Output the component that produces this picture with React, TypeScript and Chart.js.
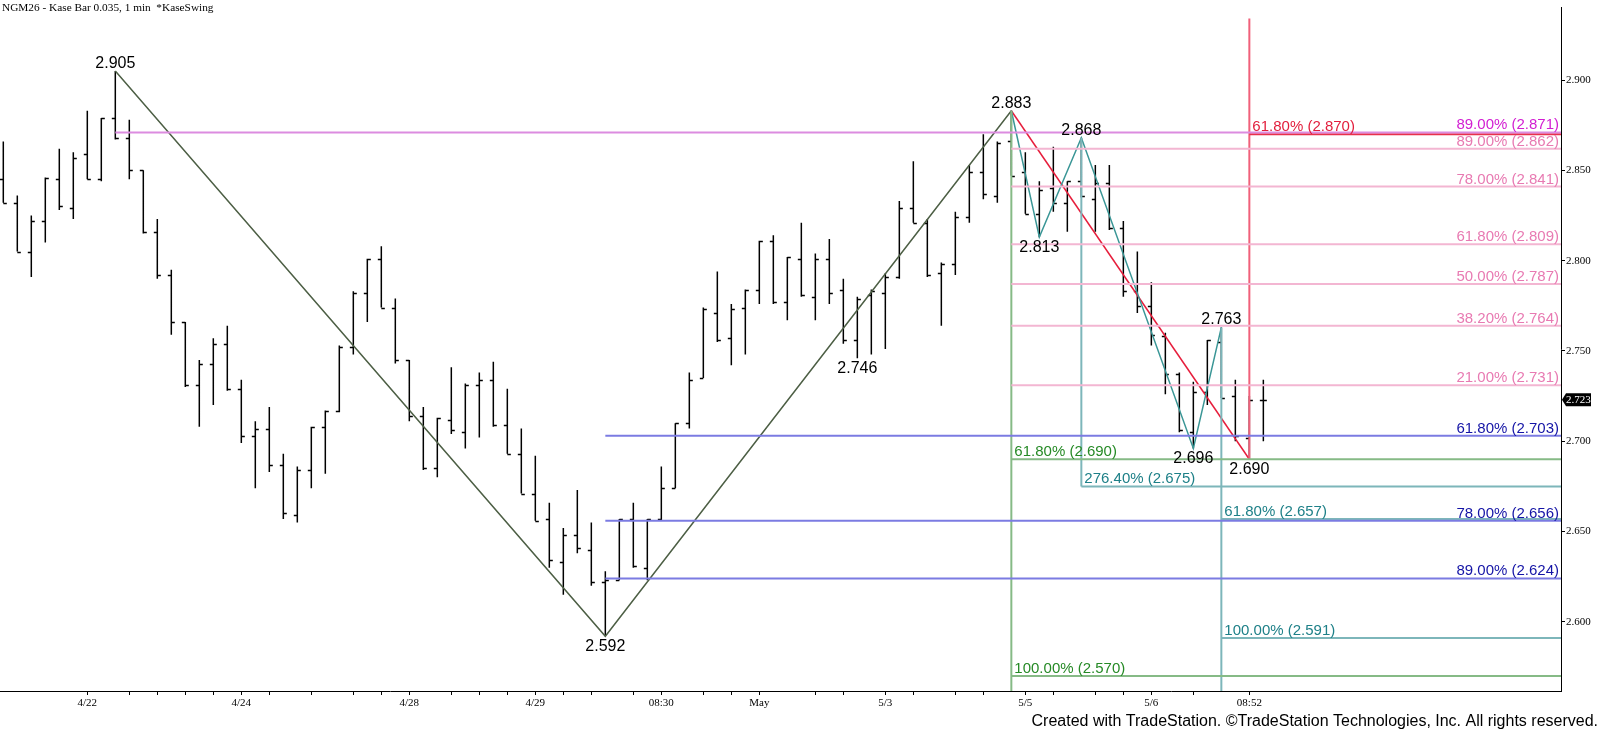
import { useEffect, useRef } from "react";
import { Chart, registerables } from "chart.js";

Chart.register(...registerables);

// Kase bars, one entry per bar (index = bar number)
const opens = [
    2.845, 2.832, 2.805, 2.822, 2.845, 2.829, 2.859, 2.845, 2.879, 2.868,
    2.850, 2.816, 2.792, 2.766, 2.731, 2.743, 2.754, 2.729, 2.703, 2.707,
    2.687, 2.659, 2.684, 2.708, 2.717, 2.752, 2.782, 2.801, 2.774, 2.745,
    2.714, 2.685, 2.712, 2.705, 2.731, 2.734, 2.709, 2.693, 2.671, 2.657,
    2.633, 2.648, 2.640, 2.622, 2.623, 2.657, 2.630, 2.657, 2.674, 2.710,
    2.735, 2.771, 2.757, 2.774, 2.784, 2.811, 2.777, 2.801, 2.780, 2.801,
    2.784, 2.756, 2.781, 2.782, 2.791, 2.829, 2.821, 2.793, 2.798, 2.824,
    2.849, 2.836, 2.866, 2.849, 2.826, 2.840, 2.832, 2.844, 2.834, 2.843,
    2.818, 2.783, 2.775, 2.758, 2.737, 2.705, 2.727, 2.755, 2.725, 2.702,
    2.723
];
const highs = [
    2.866, 2.836, 2.825, 2.846, 2.862, 2.860, 2.883, 2.879, 2.905, 2.878,
    2.850, 2.823, 2.795, 2.766, 2.745, 2.757, 2.764, 2.734, 2.711, 2.719,
    2.693, 2.686, 2.708, 2.717, 2.753, 2.783, 2.801, 2.808, 2.779, 2.745,
    2.719, 2.713, 2.741, 2.732, 2.738, 2.744, 2.729, 2.707, 2.692, 2.666,
    2.652, 2.673, 2.655, 2.628, 2.657, 2.666, 2.657, 2.686, 2.710, 2.738,
    2.774, 2.794, 2.776, 2.784, 2.811, 2.814, 2.802, 2.821, 2.804, 2.812,
    2.790, 2.780, 2.784, 2.793, 2.833, 2.855, 2.823, 2.799, 2.827, 2.853,
    2.870, 2.866, 2.883, 2.860, 2.844, 2.863, 2.844, 2.868, 2.853, 2.853,
    2.822, 2.805, 2.788, 2.760, 2.738, 2.733, 2.756, 2.763, 2.734, 2.725,
    2.734
];
const lows = [
    2.832, 2.805, 2.791, 2.810, 2.828, 2.823, 2.845, 2.844, 2.867, 2.845,
    2.815, 2.790, 2.759, 2.730, 2.708, 2.720, 2.728, 2.699, 2.674, 2.683,
    2.657, 2.655, 2.674, 2.682, 2.716, 2.748, 2.766, 2.774, 2.743, 2.711,
    2.684, 2.680, 2.704, 2.696, 2.702, 2.708, 2.693, 2.671, 2.656, 2.630,
    2.615, 2.638, 2.620, 2.592, 2.623, 2.630, 2.623, 2.656, 2.674, 2.707,
    2.735, 2.755, 2.742, 2.748, 2.776, 2.776, 2.767, 2.780, 2.767, 2.776,
    2.754, 2.746, 2.748, 2.751, 2.790, 2.821, 2.791, 2.764, 2.792, 2.821,
    2.834, 2.832, 2.847, 2.826, 2.813, 2.827, 2.816, 2.835, 2.816, 2.817,
    2.780, 2.771, 2.753, 2.726, 2.705, 2.696, 2.720, 2.724, 2.700, 2.690,
    2.700
];
const closes = [
    2.832, 2.805, 2.822, 2.846, 2.830, 2.857, 2.845, 2.879, 2.868, 2.850,
    2.816, 2.792, 2.766, 2.731, 2.743, 2.754, 2.729, 2.703, 2.707, 2.687,
    2.660, 2.684, 2.708, 2.717, 2.752, 2.782, 2.801, 2.774, 2.745, 2.714,
    2.685, 2.713, 2.706, 2.731, 2.734, 2.709, 2.693, 2.671, 2.656, 2.634,
    2.648, 2.641, 2.622, 2.623, 2.657, 2.631, 2.657, 2.674, 2.710, 2.734,
    2.773, 2.756, 2.773, 2.784, 2.811, 2.777, 2.802, 2.781, 2.801, 2.782,
    2.756, 2.779, 2.783, 2.791, 2.829, 2.821, 2.792, 2.798, 2.824, 2.849,
    2.837, 2.865, 2.847, 2.826, 2.839, 2.832, 2.844, 2.836, 2.843, 2.818,
    2.783, 2.775, 2.759, 2.737, 2.706, 2.727, 2.756, 2.724, 2.703, 2.723,
    2.723
];

// time axis
const xTickBars = [
    6, 9, 11, 13, 15, 17, 19, 22, 25, 27, 29, 32, 34, 36, 38, 40, 42, 45, 47,
    50, 52, 54, 58, 60, 63, 65, 68, 70, 73, 75, 78, 80, 82, 85, 89
];
const xLabelBars = [6, 17, 29, 38, 47, 54, 63, 73, 82, 89];
const xLabels = ["4/22", "4/24", "4/28", "4/29", "08:30", "May", "5/3", "5/5", "5/6", "08:52"];
const yTicks = [2.6, 2.65, 2.7, 2.75, 2.8, 2.85, 2.9];

// KaseSwing pivots
const majorSwingBars = [8, 43, 72];
const majorSwingPrices = [2.905, 2.592, 2.883];
const minorSwingBars = [72, 74, 77, 85, 87];
const minorSwingPrices = [2.883, 2.813, 2.868, 2.696, 2.763];
const redSwingBars = [72, 89];
const redSwingPrices = [2.883, 2.69];

const pivotLabelBars = [8, 43, 61, 72, 74, 77, 85, 87, 89];
const pivotLabelPrices = [2.905, 2.592, 2.746, 2.883, 2.813, 2.868, 2.696, 2.763, 2.69];
const pivotLabelAbove = [true, false, false, true, false, true, false, true, false];

// fibonacci levels
const magentaLevels = [2.871];
const magentaPercents = ["89.00%"];
const magentaStartBars = [8];
const redLevels = [2.87];
const redPercents = ["61.80%"];
const redStartBars = [89];
const pinkLevels = [2.862, 2.841, 2.809, 2.787, 2.764, 2.731];
const pinkPercents = ["89.00%", "78.00%", "61.80%", "50.00%", "38.20%", "21.00%"];
const pinkStartBars = [72, 72, 72, 72, 72, 72];
const blueLevels = [2.703, 2.656, 2.624];
const bluePercents = ["61.80%", "78.00%", "89.00%"];
const blueStartBars = [43, 43, 43];
const greenLevels = [2.69, 2.57];
const greenPercents = ["61.80%", "100.00%"];
const greenStartBars = [72, 72];
const tealLevels = [2.675, 2.657, 2.591];
const tealPercents = ["276.40%", "61.80%", "100.00%"];
const tealStartBars = [77, 87, 87];

// projection anchors (vertical lines)
const anchorBars = [72, 77, 87, 89];
const anchorFrom = [2.883, 2.868, 2.763, 2.69];
const anchorTo = [2.5617, 2.675, 2.5617, 2.934];

const Y_MIN = 2.5617;
const Y_MAX = 2.9401;
const X_MIN = -0.236;
const X_MAX = 111.26;

const SANS = "'Liberation Sans', Arial, sans-serif";
const SERIF = "'Liberation Serif', 'Times New Roman', serif";

const fibGroups = [
    { levels: magentaLevels, pcts: magentaPercents, starts: magentaStartBars, line: "#dc8ce0", text: "#d21ed2", right: true },
    { levels: pinkLevels, pcts: pinkPercents, starts: pinkStartBars, line: "#f3b6d2", text: "#e87ab2", right: true },
    { levels: blueLevels, pcts: bluePercents, starts: blueStartBars, line: "#7b7be2", text: "#1414a6", right: true },
    { levels: greenLevels, pcts: greenPercents, starts: greenStartBars, line: "#86ba86", text: "#268a26", right: false },
    { levels: tealLevels, pcts: tealPercents, starts: tealStartBars, line: "#7db6ba", text: "#1e8088", right: false },
    { levels: redLevels, pcts: redPercents, starts: redStartBars, line: "#e8304c", text: "#e21e3c", right: false },
];
const anchorColors = ["#86ba86", "#7db6ba", "#7db6ba", "#f0607a"];

const ohlcPlugin = {
    id: "ohlcBars",
    beforeDatasetsDraw(chart: any) {
        const { ctx, scales } = chart;
        const x = scales.x;
        const y = scales.y;
        ctx.save();
        ctx.strokeStyle = "#000";
        ctx.lineWidth = 1.5;
        ctx.beginPath();
        for (let i = 0; i < closes.length; i++) {
            const px = x.getPixelForValue(i);
            ctx.moveTo(px, y.getPixelForValue(highs[i]));
            ctx.lineTo(px, y.getPixelForValue(lows[i]));
            const po = Math.round(y.getPixelForValue(opens[i])) + 0.5;
            ctx.moveTo(px - 3.5, po);
            ctx.lineTo(px, po);
            const pc = Math.round(y.getPixelForValue(closes[i])) + 0.5;
            ctx.moveTo(px, pc);
            ctx.lineTo(px + 3.5, pc);
        }
        ctx.stroke();
        ctx.restore();
    },
};

const annotationPlugin = {
    id: "annotations",
    afterDraw(chart: any) {
        const { ctx, scales, chartArea, width } = chart;
        const x = scales.x;
        const y = scales.y;
        ctx.save();

        // fib labels
        ctx.font = `15px ${SANS}`;
        ctx.textBaseline = "alphabetic";
        fibGroups.forEach((g) => {
            g.levels.forEach((lvl, k) => {
                const text = `${g.pcts[k]} (${lvl.toFixed(3)})`;
                const py = y.getPixelForValue(lvl) - 3;
                ctx.fillStyle = g.text;
                if (g.right) {
                    ctx.textAlign = "right";
                    ctx.fillText(text, chartArea.right - 2, py);
                } else {
                    ctx.textAlign = "left";
                    ctx.fillText(text, x.getPixelForValue(g.starts[k]) + 3, py);
                }
            });
        });

        // pivot labels
        ctx.font = `16px ${SANS}`;
        ctx.fillStyle = "#000";
        ctx.textAlign = "center";
        pivotLabelBars.forEach((b, k) => {
            const px = x.getPixelForValue(b);
            const py = y.getPixelForValue(pivotLabelPrices[k]);
            const text = pivotLabelPrices[k].toFixed(3);
            if (pivotLabelAbove[k]) {
                ctx.textBaseline = "alphabetic";
                ctx.fillText(text, px, py - 3);
            } else {
                ctx.textBaseline = "top";
                ctx.fillText(text, px, py + 2);
            }
        });

        // last price marker
        const last = closes[closes.length - 1];
        const ly = y.getPixelForValue(last);
        const lx = chartArea.right + 1;
        ctx.fillStyle = "#000";
        ctx.beginPath();
        ctx.moveTo(lx, ly);
        ctx.lineTo(lx + 4, ly - 6.5);
        ctx.lineTo(lx + 29, ly - 6.5);
        ctx.lineTo(lx + 29, ly + 6.5);
        ctx.lineTo(lx + 4, ly + 6.5);
        ctx.closePath();
        ctx.fill();
        ctx.fillStyle = "#fff";
        ctx.font = `11px ${SERIF}`;
        ctx.textAlign = "left";
        ctx.textBaseline = "middle";
        ctx.fillText(last.toFixed(3), lx + 4, ly + 0.5);

        // header and footer
        ctx.fillStyle = "#000";
        ctx.font = `11.3px ${SERIF}`;
        ctx.textAlign = "left";
        ctx.textBaseline = "middle";
        ctx.fillText("NGM26 - Kase Bar 0.035, 1 min  *KaseSwing", 2, 8);
        ctx.font = `16px ${SANS}`;
        ctx.textAlign = "right";
        ctx.fillText(
            "Created with TradeStation. \u00A9TradeStation Technologies, Inc. All rights reserved.",
            width - 2,
            722
        );
        ctx.restore();
    },
};

function lineSet(xs: number[], ys: number[], color: string, w: number) {
    return {
        data: xs.map((v, i) => ({ x: v, y: ys[i] })),
        borderColor: color,
        borderWidth: w,
        pointRadius: 0,
        fill: false,
        tension: 0,
    };
}

export default function App() {
    const canvasRef = useRef<HTMLCanvasElement | null>(null);
    const chartRef = useRef<Chart | null>(null);

    useEffect(() => {
        if (!canvasRef.current) return;
        if (chartRef.current) chartRef.current.destroy();

        const datasets: any[] = [];
        fibGroups.forEach((g) => {
            g.levels.forEach((lvl, k) => {
                datasets.push(lineSet([g.starts[k], X_MAX], [lvl, lvl], g.line, 2));
            });
        });
        anchorBars.forEach((b, k) => {
            datasets.push(lineSet([b, b], [anchorFrom[k], anchorTo[k]], anchorColors[k], 2));
        });
        datasets.push(lineSet(majorSwingBars, majorSwingPrices, "#4d5f45", 1.5));
        datasets.push(lineSet(minorSwingBars, minorSwingPrices, "#3a9696", 1.5));
        datasets.push(lineSet(redSwingBars, redSwingPrices, "#e61e3c", 1.5));

        chartRef.current = new Chart(canvasRef.current, {
            type: "line",
            data: { datasets },
            plugins: [ohlcPlugin, annotationPlugin],
            options: {
                animation: false,
                responsive: true,
                maintainAspectRatio: false,
                events: [],
                layout: { padding: 0 },
                plugins: {
                    legend: { display: false },
                    tooltip: { enabled: false },
                },
                scales: {
                    x: {
                        type: "linear",
                        min: X_MIN,
                        max: X_MAX,
                        afterBuildTicks: (scale: any) => {
                            scale.ticks = xTickBars.map((v) => ({ value: v }));
                        },
                        afterFit: (scale: any) => {
                            scale.height = 40;
                        },
                        grid: {
                            drawOnChartArea: false,
                            drawTicks: true,
                            tickLength: 4,
                            color: "#000",
                        },
                        border: { display: true, color: "#000", width: 1 },
                        ticks: {
                            autoSkip: false,
                            maxRotation: 0,
                            minRotation: 0,
                            padding: 2,
                            color: "#000",
                            font: { family: SERIF, size: 11 },
                            callback: (value: any) => {
                                const k = xLabelBars.indexOf(Number(value));
                                return k >= 0 ? xLabels[k] : "";
                            },
                        },
                    },
                    y: {
                        type: "linear",
                        position: "right",
                        min: Y_MIN,
                        max: Y_MAX,
                        afterBuildTicks: (scale: any) => {
                            scale.ticks = yTicks.map((v) => ({ value: v }));
                        },
                        afterFit: (scale: any) => {
                            scale.width = 39;
                        },
                        grid: {
                            drawOnChartArea: false,
                            drawTicks: true,
                            tickLength: 4,
                            color: "#000",
                        },
                        border: { display: true, color: "#000", width: 1 },
                        ticks: {
                            padding: 1,
                            color: "#000",
                            font: { family: SERIF, size: 11 },
                            callback: (value: any) => Number(value).toFixed(3),
                        },
                    },
                },
            },
        });

        return () => {
            if (chartRef.current) chartRef.current.destroy();
            chartRef.current = null;
        };
    }, []);

    return (
        <div
            style={{
                position: "absolute",
                left: 0,
                top: 0,
                width: 1600,
                height: 731,
                background: "#fff",
            }}
        >
            <canvas ref={canvasRef} />
        </div>
    );
}
